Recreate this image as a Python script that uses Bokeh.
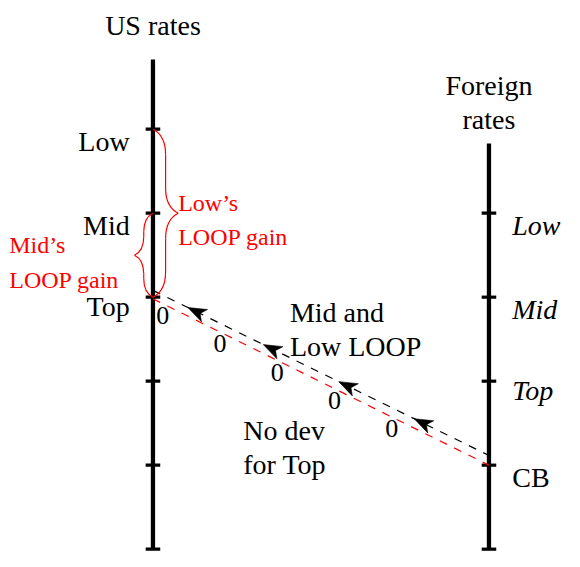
import numpy as np
from bokeh.plotting import figure
from bokeh.embed import file_html
from bokeh.resources import INLINE
from bokeh.core.properties import value

# ---------------- data ----------------
us_ticks = [0, 1, 2, 3, 4, 5]
us_labels = ["Low", "Mid", "Top"]
us_label_levels = [5, 4, 3]
foreign_ticks = [0, 1, 2, 3, 4]
foreign_labels = ["Low", "Mid", "Top"]
foreign_label_levels = [4, 3, 2]
cb_label = ["CB"]
cb_level = [1]
us_x, foreign_x = 0, 4
us_axis_top, foreign_axis_top = 5.83, 4.83
path_gains = ["0", "0", "0", "0", "0"]
n_arrows = 4

# ---------------- geometry helpers ----------------
REF = 86.5            # reference px per unit
S = 84.0              # our px per unit
f = S / REF
W, H = 564, 551

def px(v):
    return v / REF

def X(p_):
    return (p_ - 157) / REF

def Y(p_):
    return (566 - p_) / REF

xs0 = X(0)
ytop = Y(1)

BIG = "28px"
SMALL = "24px"
ZERO = "26px"
RED = "#ff0000"

p = figure(width=W, height=H, x_range=(xs0, xs0 + W / S), y_range=(ytop - H / S, ytop),
           output_backend="svg", toolbar_location=None, min_border=0,
           x_axis_location=None, y_axis_location=None)
p.grid.visible = False
p.outline_line_color = None
p.background_fill_color = "white"
p.border_fill_color = "white"


def label(xs, ys, texts, align, size, color="black", italic=False):
    kw = dict(text_font_style="italic") if italic else {}
    p.text(x=xs, y=ys, text=texts, text_align=align, text_baseline="alphabetic",
           text_font=value("Liberation Serif"), text_font_size=size,
           text_color=color, **kw)


# ---------------- axes ----------------
p.segment(x0=[us_x, foreign_x], y0=[0, 0], x1=[us_x, foreign_x],
          y1=[us_axis_top, foreign_axis_top], line_width=4.4 * f, line_color="black")
tx = [us_x] * len(us_ticks) + [foreign_x] * len(foreign_ticks)
ty = us_ticks + foreign_ticks
p.segment(x0=[x - px(7.5) for x in tx], y0=ty, x1=[x + px(7.5) for x in tx], y1=ty,
          line_width=3.3 * f, line_color="black")

def off(lbl):
    return px(9.5) if any(c in "gjpqy" for c in lbl) else px(12.5)

label([us_x - px(24)] * len(us_labels),
      [lv - off(l) for lv, l in zip(us_label_levels, us_labels)], us_labels, "right", BIG)
label([foreign_x + px(24)] * len(foreign_labels),
      [lv - off(l) for lv, l in zip(foreign_label_levels, foreign_labels)],
      foreign_labels, "left", BIG, italic=True)
label([foreign_x + px(24)], [lv - off(l) for lv, l in zip(cb_level, cb_label)],
      cb_label, "left", BIG)

# titles
label([us_x], [Y(27)], ["US rates"], "center", BIG)
label([foreign_x, foreign_x], [Y(89), Y(124)], ["Foreign", "rates"], "center", BIG)

# annotations
label([X(298)] * 2, [Y(322), Y(357)], ["Mid and", "Low LOOP"], "left", BIG)
label([X(250)] * 2, [Y(444), Y(479)], ["No dev", "for Top"], "left", BIG)
label([X(183)] * 2, [Y(210), Y(245)], ["Low\u2019s", "LOOP gain"], "left", SMALL, RED)
label([X(9)] * 2, [Y(253), Y(289)], ["Mid\u2019s", "LOOP gain"], "left", SMALL, RED)

# ---------------- dashed paths ----------------
top_level = us_label_levels[us_labels.index("Top")]
cb_lv = cb_level[0]
red_start = (us_x, top_level - px(1.7))
red_end = (foreign_x, cb_lv)
blk_start = (us_x, top_level + px(7))
blk_end = (foreign_x, cb_lv + px(10))
dash = "8 8"
p.line([red_start[0], red_end[0]], [red_start[1], red_end[1]], line_color=RED,
       line_width=1.2, line_dash=dash)
p.line([blk_start[0], blk_end[0]], [blk_start[1], blk_end[1]], line_color="black",
       line_width=1.2, line_dash=dash)

# zeros along the red path
def red_y(u):
    return red_start[1] + (red_end[1] - red_start[1]) * (u - red_start[0]) / (red_end[0] - red_start[0])

zu = [X(167) + k * px(59) for k in range(len(path_gains))]
label(zu, [red_y(u) - px(3.5) - px(8.5) for u in zu], path_gains, "center", ZERO)

# arrowheads on black path (pointing toward US axis)
b0 = np.array(blk_start, float)
b1 = np.array(blk_end, float)
d = (b0 - b1) / np.linalg.norm(b0 - b1)
nrm = np.array([-d[1], d[0]])
L, Wd, ins = px(19), px(7), px(5)
axs, ays = [], []
for k in range(n_arrows):
    t = 0.104 + 0.2245 * k
    T = b0 + (b1 - b0) * t
    pts = [T, T - L * d + Wd * nrm, T - (L - ins) * d, T - L * d - Wd * nrm]
    axs.append([q[0] for q in pts])
    ays.append([q[1] for q in pts])
p.patches(axs, ays, fill_color="black", line_color="black", line_width=0.6)

# ---------------- braces ----------------
def brace(P0, P1, side, a, color):
    P0 = np.array(P0, float)
    P1 = np.array(P1, float)
    D = np.linalg.norm(P1 - P0)
    e = (P1 - P0) / D
    n = np.array(side, float)

    def w(s, t):
        return P0 + s * e + t * n

    m = D / 2
    curves = [
        ((0, 0), (.15 * a, .3 * a), (.5 * a, .5 * a), (a, .5 * a)),
        ((m - a, .5 * a), (m - .5 * a, .5 * a), (m - .15 * a, .7 * a), (m, a)),
        ((m, a), (m + .15 * a, .7 * a), (m + .5 * a, .5 * a), (m + a, .5 * a)),
        ((D - a, .5 * a), (D - .5 * a, .5 * a), (D - .15 * a, .3 * a), (D, 0)),
    ]
    c = [[w(*q) for q in cv] for cv in curves]
    p.bezier(x0=[q[0][0] for q in c], y0=[q[0][1] for q in c],
             cx0=[q[1][0] for q in c], cy0=[q[1][1] for q in c],
             cx1=[q[2][0] for q in c], cy1=[q[2][1] for q in c],
             x1=[q[3][0] for q in c], y1=[q[3][1] for q in c],
             line_color=color, line_width=1.2)
    segs = [((a, .5 * a), (m - a, .5 * a)), ((m + a, .5 * a), (D - a, .5 * a))]
    sg = [[w(*q) for q in s_] for s_ in segs]
    p.segment(x0=[s_[0][0] for s_ in sg], y0=[s_[0][1] for s_ in sg],
              x1=[s_[1][0] for s_ in sg], y1=[s_[1][1] for s_ in sg],
              line_color=color, line_width=1.2)

low_lv = us_label_levels[us_labels.index("Low")]
mid_lv = us_label_levels[us_labels.index("Mid")]
brace((us_x, low_lv), (us_x, top_level), (1, 0), px(26), RED)
brace((us_x, mid_lv), (us_x, top_level), (-1, 0), px(19), RED)

open("out.html", "w").write(file_html(p, INLINE))
